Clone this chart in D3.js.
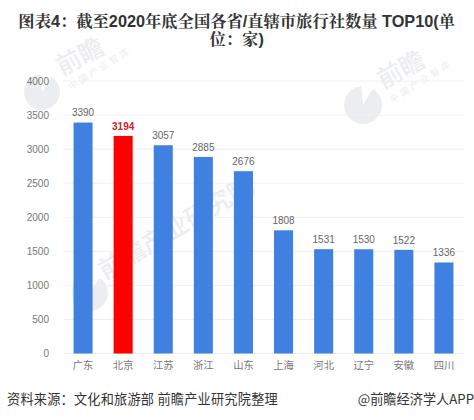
<!DOCTYPE html>
<html>
<head>
<meta charset="utf-8">
<script src="https://cdnjs.cloudflare.com/ajax/libs/d3/7.8.5/d3.min.js"></script>
<style>
  html, body { margin: 0; padding: 0; background: #fff; }
  svg { display: block; font-family: "Noto Sans CJK SC", "Liberation Sans", sans-serif; }
</style>
</head>
<body>
<div id="chart"></div>
<script>
// chart data
const provinces = ['广东', '北京', '江苏', '浙江', '山东', '上海', '河北', '辽宁', '安徽', '四川'];
const agencyCounts = [3390, 3194, 3057, 2885, 2676, 1808, 1531, 1530, 1522, 1336];
const yTicks = [0, 500, 1000, 1500, 2000, 2500, 3000, 3500, 4000];
const highlighted = '北京';
const titleLines = ['图表4：截至2020年底全国各省/直辖市旅行社数量 TOP10(单', '位：家)'];
const sourceText = '资料来源：文化和旅游部 前瞻产业研究院整理';
const creditText = '@前瞻经济学人APP';

const width = 474;
const height = 420;
const markColor = '#ebedf0';

const svg = d3.select('#chart').append('svg')
    .attr('width', width)
    .attr('height', height);

const x = d3.scaleBand().domain(provinces).range([63, 464]).paddingInner(0.525).paddingOuter(0.2625);
const y = d3.scaleLinear().domain([0, 4000]).range([353.5, 81]);

// faint logo disc with a notch, sits behind the bars
function logoDisc(cx, cy, r) {
    const arc = d3.arc().innerRadius(0).outerRadius(r).startAngle(0.55).endAngle(2 * Math.PI - 0.1);
    svg.append('path')
        .attr('transform', `translate(${cx},${cy})`)
        .attr('d', arc())
        .attr('fill', markColor);
}

function watermark(cx, cy, r) {
    logoDisc(cx, cy, r);
    svg.append('text')
        .attr('transform', `translate(${cx + 20},${cy - 16}) rotate(-28)`)
        .attr('font-size', 25).attr('font-weight', 500).attr('fill', markColor)
        .text('前瞻');
    svg.append('text')
        .attr('transform', `translate(${cx + 29},${cy - 2}) rotate(-32)`)
        .attr('font-size', 9).attr('letter-spacing', 3).attr('fill', markColor)
        .text('中国产业智库');
}
watermark(42, 92, 18);
watermark(363, 105, 19);

logoDisc(90, 293, 18);
svg.append('text')
    .attr('transform', 'translate(105,280) rotate(-30.6)')
    .attr('font-size', 25).attr('font-weight', 500).attr('fill', markColor)
    .text('前瞻产业研究院');

// title
svg.append('g').selectAll('text').data(titleLines).join('text')
    .attr('x', 236.7)
    .attr('y', (d, i) => 27 + i * 17.5)
    .attr('text-anchor', 'middle')
    .attr('font-family', '"Liberation Sans", "Noto Serif CJK SC", "Noto Sans CJK SC", sans-serif')
    .attr('font-size', 16.3)
    .attr('font-weight', 700)
    .attr('fill', '#333')
    .text(d => d);

// gridlines
svg.append('g').selectAll('line').data(yTicks).join('line')
    .attr('x1', 63).attr('x2', 464)
    .attr('y1', d => y(d)).attr('y2', d => y(d))
    .attr('stroke', '#f0f0f0').attr('stroke-width', 1);

// y axis
const yAxis = d3.axisLeft(y).tickValues(yTicks).tickSize(0).tickPadding(14).tickFormat(d3.format('d'));
const yAxisG = svg.append('g').attr('transform', 'translate(63,0)').call(yAxis);
yAxisG.select('.domain').remove();
yAxisG.selectAll('text')
    .attr('font-family', '"Liberation Sans", sans-serif')
    .attr('font-size', 10).attr('fill', '#777');

// x axis
const xAxis = d3.axisBottom(x).tickSize(0).tickPadding(8);
const xAxisG = svg.append('g').attr('transform', `translate(0,${y(0)})`).call(xAxis);
xAxisG.select('.domain').remove();
xAxisG.selectAll('text')
    .attr('font-family', '"Noto Sans CJK SC", sans-serif')
    .attr('font-size', 10.3).attr('fill', '#777');

// bars
svg.append('g').selectAll('rect').data(agencyCounts).join('rect')
    .attr('x', (d, i) => x(provinces[i]))
    .attr('y', d => y(d))
    .attr('width', x.bandwidth())
    .attr('height', d => y(0) - y(d))
    .attr('fill', (d, i) => provinces[i] === highlighted ? '#ff0000' : '#3f80e0');

// value labels
svg.append('g').selectAll('text').data(agencyCounts).join('text')
    .attr('x', (d, i) => x(provinces[i]) + x.bandwidth() / 2)
    .attr('y', d => y(d) - 6.3)
    .attr('text-anchor', 'middle')
    .attr('font-family', '"Liberation Sans", sans-serif')
    .attr('font-size', 10)
    .attr('font-weight', (d, i) => provinces[i] === highlighted ? 700 : 400)
    .attr('fill', (d, i) => provinces[i] === highlighted ? '#d0202a' : '#666')
    .text(d => d);

// footer
svg.append('text').attr('x', 7).attr('y', 404)
    .attr('font-size', 13.2).attr('letter-spacing', 0.2).attr('fill', '#333').text(sourceText);
svg.append('text').attr('x', 474).attr('y', 404).attr('text-anchor', 'end')
    .attr('font-size', 13.2).attr('fill', '#333').text(creditText);
</script>
</body>
</html>
